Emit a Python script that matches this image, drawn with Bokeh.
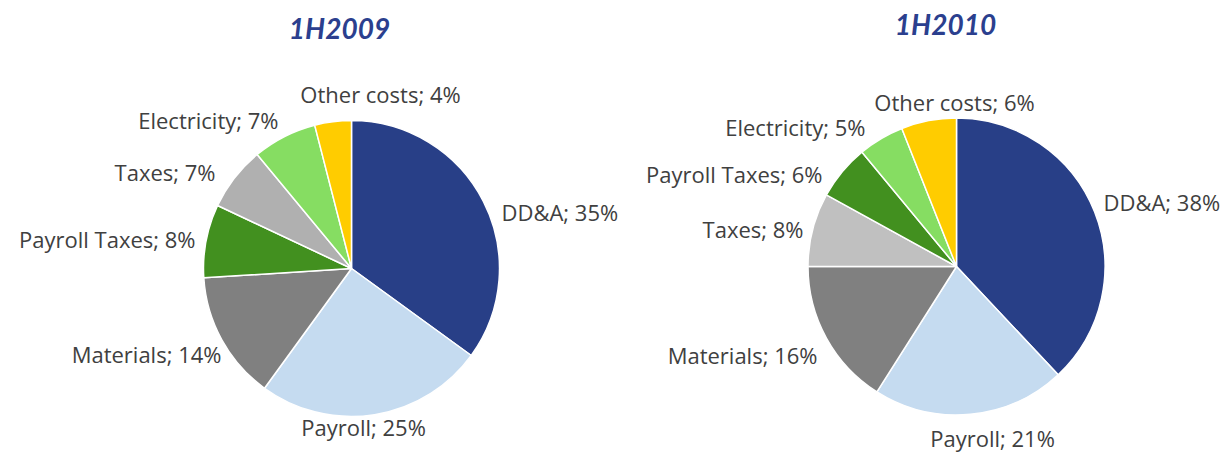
import math
from bokeh.plotting import figure
from bokeh.models import Range1d, ColumnDataSource
from bokeh.core.properties import value
from bokeh.embed import file_html
from bokeh.resources import INLINE

# ---- data ----
titles = ["1H2009", "1H2010"]
cats_2009 = ["DD&A", "Payroll", "Materials", "Payroll Taxes", "Taxes", "Electricity", "Other costs"]
vals_2009 = [35, 25, 14, 8, 7, 7, 4]
cats_2010 = ["DD&A", "Payroll", "Materials", "Taxes", "Payroll Taxes", "Electricity", "Other costs"]
vals_2010 = [38, 21, 16, 8, 6, 5, 6]

# ---- styles / layout ----
colors_2009 = ["#283F87", "#C5DBF0", "#808080", "#42901F", "#B0B0B0", "#86DD62", "#FFCC00"]
colors_2010 = ["#283F87", "#C5DBF0", "#808080", "#C0C0C0", "#42901F", "#86DD62", "#FFCC00"]

W, H = 1220, 453
LABEL_SIZE = 22
TITLE_SIZE = 28
LABEL_SHIFT = 9   # compensates renderer baseline offset
TITLE_SHIFT = 11


def px(x):
    return x


def py(y):
    return H - y


# label layout: page x, page baseline y, align
labels_pos_2009 = {
    "DD&A": (501, 220, "left"),
    "Payroll": (363, 435, "center"),
    "Materials": (221, 362, "right"),
    "Payroll Taxes": (195, 247, "right"),
    "Taxes": (215, 180, "right"),
    "Electricity": (278, 128, "right"),
    "Other costs": (380, 102, "center"),
}
labels_pos_2010 = {
    "DD&A": (1103, 210, "left"),
    "Payroll": (992, 446, "center"),
    "Materials": (817, 363, "right"),
    "Taxes": (803, 237, "right"),
    "Payroll Taxes": (822, 182, "right"),
    "Electricity": (865, 135, "right"),
    "Other costs": (954, 110, "center"),
}

pies = [
    dict(title=titles[0], cats=cats_2009, vals=vals_2009, colors=colors_2009,
         center=(351, 268), r=148, lab=labels_pos_2009, title_pos=(339, 38)),
    dict(title=titles[1], cats=cats_2010, vals=vals_2010, colors=colors_2010,
         center=(956, 266), r=148.5, lab=labels_pos_2010, title_pos=(945, 34)),
]

p = figure(width=W, height=H, x_range=Range1d(0, W), y_range=Range1d(0, H),
           output_backend="svg", toolbar_location=None, min_border=0)
p.axis.visible = False
p.grid.visible = False
p.outline_line_color = None
p.background_fill_color = "white"

LABEL_FONT = value("Open Sans")
TITLE_FONT = value("Lato")

for pie in pies:
    total = sum(pie["vals"])
    cum = 0.0
    starts, ends = [], []
    for v in pie["vals"]:
        a0 = cum / total
        cum += v
        a1 = cum / total
        starts.append(math.pi / 2 - 2 * math.pi * a1)
        ends.append(math.pi / 2 - 2 * math.pi * a0)
    cx, cy = pie["center"]
    src = ColumnDataSource(dict(start=starts, end=ends, color=pie["colors"]))
    p.wedge(x=px(cx), y=py(cy), radius=pie["r"], start_angle="start", end_angle="end",
            direction="anticlock", fill_color="color", line_color="white",
            line_width=1.5, source=src)

    for cat, v in zip(pie["cats"], pie["vals"]):
        lx, ly, al = pie["lab"][cat]
        p.text(x=[px(lx)], y=[py(ly - LABEL_SHIFT)], text=[f"{cat}; {v}%"], text_align=al,
               text_baseline="alphabetic", text_font=LABEL_FONT,
               text_font_size=f"{LABEL_SIZE}px", text_color="#404040")

    tx, ty = pie["title_pos"]
    p.text(x=[px(tx)], y=[py(ty - TITLE_SHIFT)], text=[pie["title"]], text_align="center",
           text_baseline="alphabetic", text_font=TITLE_FONT, text_font_size=f"{TITLE_SIZE}px",
           text_font_style="bold italic", text_color="#2B3F8E")

open("out.html", "w").write(file_html(p, INLINE))
